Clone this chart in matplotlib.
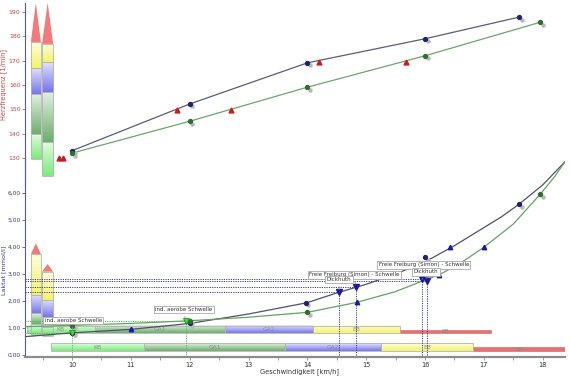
import numpy as np
import matplotlib
matplotlib.use("Agg")
import matplotlib.pyplot as plt
import matplotlib.colors as mcolors
import matplotlib.transforms as mtrans
from matplotlib.patches import Rectangle, Polygon
from matplotlib.ticker import FuncFormatter, MultipleLocator, FixedLocator

# ---- heart rate (top panel) ----
hf1_speed = [10.0, 12.0, 14.0, 16.0, 17.6]
hf1_value = [133.0, 152.2, 169.1, 179.0, 187.9]
hf2_speed = [10.0, 12.0, 14.0, 16.0, 17.96]
hf2_value = [132.0, 145.1, 159.1, 172.0, 185.8]
hf_thr_speed = [9.78, 9.85, 11.79, 12.71, 14.2, 15.67]
hf_thr_value = [130.0, 130.0, 149.9, 149.8, 169.6, 169.6]
hf_ticks = [130, 140, 150, 160, 170, 180, 190]
hf_zones_1 = [129.6, 139.9, 156.3, 167.0, 177.7, 193.8]
hf_zones_2 = [122.6, 136.6, 157.1, 169.5, 176.9, 193.8]

# ---- lactate (bottom panel) ----
lac1_curve_speed = [9.2, 10, 11, 12, 13, 14, 14.5, 15, 15.5, 16, 16.5, 17, 17.3, 17.6, 18, 18.38]
lac1_curve_value = [0.68, 0.82, 0.95, 1.17, 1.52, 1.94, 2.30, 2.62, 3.00, 3.45, 4.05, 4.72, 5.12, 5.59, 6.30, 7.16]
lac2_curve_speed = [9.2, 10, 11, 12, 13, 14, 14.84, 15.5, 16, 16.23, 16.6, 17, 17.5, 17.96, 18.2, 18.38]
lac2_curve_value = [1.05, 1.10, 1.17, 1.27, 1.40, 1.58, 1.95, 2.35, 2.78, 2.96, 3.40, 3.99, 4.85, 5.96, 6.60, 7.16]
lac1_speed = [10.0, 12.0, 13.97, 16.0, 17.6]
lac1_value = [0.82, 1.17, 1.94, 3.62, 5.59]
lac2_speed = [10.0, 12.0, 14.0, 16.0, 17.96]
lac2_value = [1.08, 1.27, 1.58, 2.96, 5.96]
lac_tri_speed = [11.0, 15.45, 16.43, 14.84, 16.23, 17.0]
lac_tri_value = [0.95, 2.96, 3.99, 1.95, 2.96, 3.99]
lac_ticks = [0, 1, 2, 3, 4, 5, 6]
lac_zones_1 = [0.75, 1.15, 1.55, 2.22, 3.74, 4.14]
lac_zones_2 = [0.70, 1.05, 1.40, 2.04, 3.09, 3.37]

# thresholds
aer_speed = [10.0, 11.93]
aer_value = [0.80, 1.26]
thr_speed = [14.54, 14.82, 15.95, 16.03]
thr_value = [2.32, 2.53, 2.80, 2.74]
thr_names = ["Dickhuth", "Freie Freiburg (Simon) - Schwelle",
             "Dickhuth", "Freie Freiburg (Simon) - Schwelle"]

# training zones (speed bars)
zone_names = ["KB", "GA1", "GA2", "EB", "SB"]
zone_row1 = [9.23, 10.39, 12.6, 14.09, 15.57, 17.13]
zone_row2 = [9.64, 11.23, 13.62, 15.25, 16.82, 18.38]

zone_colors = ["#78ec78", "#6cae6c", "#7676ee", "#f4f468", "#e86a6a"]
bar_colors = ["#78ec78", "#6cae6c", "#7676ee", "#f4f468"]
RED_T = "#c44848"


def grad_box(ax, x0, x1, y0, y1, color, z=2, edge=True):
    c = np.array(mcolors.to_rgb(color))
    t = np.linspace(0, 1, 40)[:, None]
    rows = c * (1 - 0.8 * t) + 0.8 * t  # colour at bottom, whiter at top
    ax.imshow(rows[:, None, :], extent=(x0, x1, y0, y1), origin="lower",
              aspect="auto", interpolation="bilinear", zorder=z)
    if edge:
        ax.add_patch(Rectangle((x0, y0), x1 - x0, y1 - y0, fill=False,
                               ec="#b4b4b4", lw=0.6, zorder=z + 0.1))


def zone_column(ax, x0, x1, bounds):
    for i, col in enumerate(bar_colors):
        grad_box(ax, x0, x1, bounds[i], bounds[i + 1], col)
    ax.add_patch(Polygon([(x0, bounds[4]), (x1, bounds[4]), ((x0 + x1) / 2, bounds[5])],
                         closed=True, fc="#f27a7a", ec="none", zorder=2))


fig = plt.figure(figsize=(5.7, 3.77), dpi=100)
L, W = 25 / 570, 540 / 570
ax2 = fig.add_axes([L, 20 / 377, W, 199 / 377])
ax1 = fig.add_axes([L, 192 / 377, W, 182 / 377])
for ax in (ax1, ax2):
    ax.patch.set_alpha(0)
    ax.set_xlim(9.2, 18.38)
    for s in ("top", "right"):
        ax.spines[s].set_visible(False)
    ax.spines["left"].set_color("#5a5a9a")
    ax.spines["left"].set_linewidth(0.8)

# ---------------- top panel ----------------
ax1.set_ylim(118.9, 193.7)
ax1.spines["bottom"].set_visible(False)
ax1.tick_params(axis="x", bottom=False, labelbottom=False)
ax1.yaxis.set_major_locator(FixedLocator(hf_ticks))
ax1.tick_params(axis="y", labelsize=4.5, colors="#8080a0", labelcolor=RED_T,
                length=2, width=0.6, pad=1.2)

zone_column(ax1, 9.30, 9.47, hf_zones_1)
zone_column(ax1, 9.49, 9.68, hf_zones_2)

ax1.plot(hf1_speed, hf1_value, color="#5a5a7e", lw=0.9, zorder=4)
ax1.plot(hf2_speed, hf2_value, color="#6aa66a", lw=0.9, zorder=4)
off1 = mtrans.offset_copy(ax1.transData, fig=fig, x=2.5, y=-2.5, units="dots")
ax1.plot(hf1_speed, hf1_value, "o", ms=2.2, color="#b8b8b8", transform=off1, zorder=4)
ax1.plot(hf2_speed, hf2_value, "o", ms=2.2, color="#b8b8b8", transform=off1, zorder=4)
ax1.plot(hf1_speed, hf1_value, "o", ms=2.8, color="#22226e", zorder=5)
ax1.plot(hf2_speed, hf2_value, "o", ms=2.8, color="#2e6e2e", zorder=5)
ax1.plot(hf_thr_speed, hf_thr_value, "^", ms=3.5, color="#cc1c1c", zorder=5)

# ---------------- bottom panel ----------------
ax2.set_ylim(-0.074, 7.30)
ax2.yaxis.set_major_locator(FixedLocator(lac_ticks))
ax2.yaxis.set_major_formatter(FuncFormatter(lambda v, p: f"{v:.2f}".replace(".", ",")))
ax2.tick_params(axis="y", labelsize=4.3, colors="#5a5a9a", labelcolor="#3a3a8a",
                length=2, width=0.6, pad=1.2)
ax2.spines["bottom"].set_color("#8c8c8c")
ax2.spines["bottom"].set_linewidth(1.6)
ax2.xaxis.set_major_locator(MultipleLocator(1))
ax2.xaxis.set_minor_locator(MultipleLocator(0.5))
ax2.tick_params(axis="x", which="both", labelsize=4.8, colors="#8c8c8c", labelcolor="#333333",
                length=2.5, width=0.6, pad=0.8)

zone_column(ax2, 9.30, 9.47, lac_zones_1)
zone_column(ax2, 9.49, 9.68, lac_zones_2)

# training zone bars
for row, (y0, y1) in ((zone_row1, (0.81, 1.07)), (zone_row2, (0.15, 0.44))):
    for i, name in enumerate(zone_names):
        a, b = row[i], row[i + 1]
        if name == "SB":
            ax2.add_patch(Rectangle((a, y0), b - a, (y1 - y0) * 0.45,
                                    fc="#e87070", ec="#d06060", lw=0.4, zorder=2))
            yt = y0 + (y1 - y0) * 0.2
        else:
            grad_box(ax2, a, b, y0, y1, zone_colors[i])
            yt = (y0 + y1) / 2
        ax2.text((a + b) / 2, yt, name, fontsize=4.3, color="#8a8a8a",
                 ha="center", va="center", zorder=3)

# threshold guide lines
for s, v in zip(thr_speed, thr_value):
    ax2.plot([9.2, s], [v, v], ls=(0, (1.2, 1.2)), lw=0.7, color="#3a3a9a", zorder=3)
    ax2.plot([s, s], [0, v], ls=(0, (1.2, 1.2)), lw=0.7, color="#3a3a9a", zorder=3)
for s, v in zip(aer_speed, aer_value):
    ax2.plot([9.2, s], [v, v], ls=(0, (1.2, 1.2)), lw=0.7, color="#4cc44c", zorder=3)
    ax2.plot([s, s], [0, v], ls=(0, (1.2, 1.2)), lw=0.7, color="#4cc44c", zorder=3)

ax2.plot(lac1_curve_speed, lac1_curve_value, color="#50506e", lw=0.9, zorder=4)
ax2.plot(lac2_curve_speed, lac2_curve_value, color="#64a264", lw=0.9, zorder=4)
off2 = mtrans.offset_copy(ax2.transData, fig=fig, x=2.5, y=-2.5, units="dots")
ax2.plot(lac1_speed, lac1_value, "o", ms=2.2, color="#b8b8b8", transform=off2, zorder=4)
ax2.plot(lac2_speed, lac2_value, "o", ms=2.2, color="#b8b8b8", transform=off2, zorder=4)
ax2.plot(lac1_speed, lac1_value, "o", ms=2.8, color="#22226e", zorder=5)
ax2.plot(lac2_speed, lac2_value, "o", ms=2.8, color="#2e6e2e", zorder=5)
ax2.plot(lac_tri_speed, lac_tri_value, "^", ms=3.2, color="#1a1aa8", zorder=5)
ax2.plot(thr_speed, thr_value, "v", ms=5, color="#1a1aa0", zorder=6)
ax2.plot(aer_speed, aer_value, "v", ms=5, mfc="#3ce03c", mec="#1f8a1f", mew=0.6, zorder=6)

box = dict(boxstyle="square,pad=0.25", fc="white", ec="#a8a8a8", lw=0.6)
arrow = dict(arrowstyle="-", color="#909090", lw=0.6)
label_pos = [(10.02, 1.28), (11.90, 1.69)]
for (s, v), (tx, ty) in zip(zip(aer_speed, aer_value), label_pos):
    ax2.annotate("ind. aerobe Schwelle", xy=(s, v), xytext=(tx, ty), fontsize=4.0,
                 color="#333333", ha="center", va="center", bbox=box,
                 arrowprops=arrow, zorder=7)
thr_label_pos = [(14.54, 2.80), (14.80, 2.97), (16.02, 3.08), (15.98, 3.34)]
order = [1, 3, 0, 2]
for k in order:
    ax2.annotate(thr_names[k], xy=(thr_speed[k], thr_value[k]), xytext=thr_label_pos[k],
                 fontsize=4.0, color="#333333", ha="center", va="center", bbox=box,
                 arrowprops=arrow, zorder=7)

fig.text(4 / 570, 1 - 85 / 377, "Herzfrequenz [1/min]", rotation=90, fontsize=4.8,
         color=RED_T, ha="center", va="center")
fig.text(3.5 / 570, 1 - 270 / 377, "Laktat [mmol/l]", rotation=90, fontsize=4.6,
         color="#3a3a8a", ha="center", va="center")
fig.text(300 / 570, 5 / 377, "Geschwindigkeit [km/h]", fontsize=4.8, color="#333333",
         ha="center", va="center")

fig.savefig("out.png", dpi=100)
